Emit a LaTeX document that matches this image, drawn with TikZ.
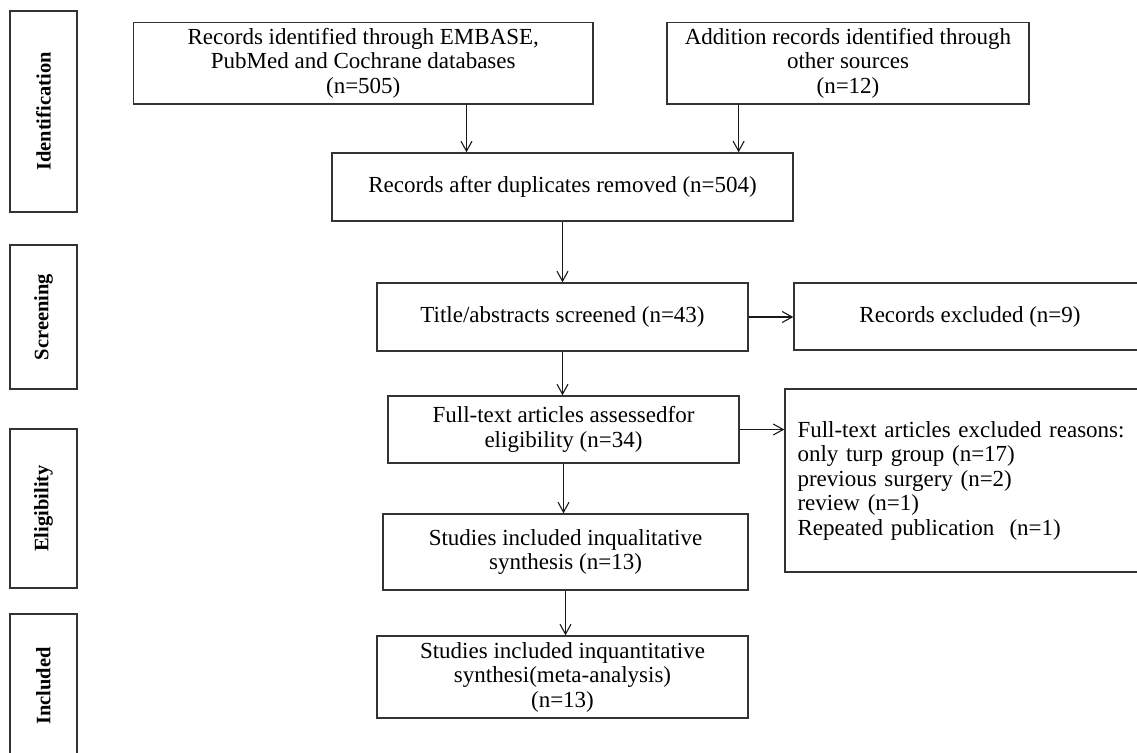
\documentclass[tikz,border=0pt]{standalone}
\usepackage{fontspec}
\setmainfont{Liberation Serif}
\usepackage{tikz}
\usetikzlibrary{arrows.meta, calc}

\begin{document}
\begin{tikzpicture}[
    x=1pt, y=-1pt,
    >={Straight Barb[length=10pt, width=11pt]},
    record/.style={rectangle, draw=black!80, line width=1.4pt, align=center,
                   inner sep=2pt, font=\fontsize{23}{24.5}\selectfont},
    stage/.style={rectangle, draw=black!80, line width=1.4pt, rotate=90,
                  minimum height=67pt, inner sep=2pt,
                  font=\fontsize{20.5}{24}\selectfont\bfseries},
    flow/.style={->, line width=1.1pt, black!90}
]
\useasboundingbox (0,0) rectangle (1137,752);
\foreach \y/\h/\t/\n in {111.5/201/Identification/sid, 317/144/Screening/sscr,
                         508.5/159/Eligibility/selg, 686/144/Included/sinc} {
    \node[stage, minimum width=\h pt] (\n) at (43.5,\y) {\t};
}
\node[record, minimum width=459.5pt, minimum height=81.3pt] (ident) at (363.25,63.35)
    {Records identified through EMBASE,\\PubMed and Cochrane databases\\(n=505)};
\node[record, minimum width=362pt, minimum height=81.3pt] (other) at (848,63.35)
    {Addition records identified through\\other sources\\(n=12)};
\node[record, minimum width=461pt, minimum height=68pt] (dedup) at (562.5,187)
    {Records after duplicates removed (n=504)};
\node[record, minimum width=371pt, minimum height=68pt] (screen) at (562.5,317)
    {Title/abstracts screened (n=43)};
\node[record, minimum width=352pt, minimum height=67pt] (excl) at (970,316.5)
    {Records excluded (n=9)};
\node[record, minimum width=351pt, minimum height=67pt] (full) at (563.5,429.5)
    {Full-text articles assessedfor\\eligibility (n=34)};
\node[record, align=left, text width=340pt, minimum width=365pt, minimum height=183pt]
    (reason) at (967.5,480.5)
    {Full-text articles excluded reasons:\\only turp group (n=17)\\previous surgery (n=2)\\
     review (n=1)\\Repeated publication\ \ (n=1)};
\node[record, minimum width=365pt, minimum height=76pt] (qual) at (565.5,552)
    {Studies included inqualitative\\synthesis (n=13)};
\node[record, minimum width=371pt, minimum height=82pt] (quant) at (562.5,677)
    {Studies included inquantitative\\synthesi(meta-analysis)\\(n=13)};
% arrows
\coordinate (in1) at ($(ident.south west)!.724!(ident.south east)$);
\coordinate (in2) at ($(other.south west)!.199!(other.south east)$);
\draw[flow] (in1) -- (in1 |- dedup.north);
\draw[flow] (in2) -- (in2 |- dedup.north);
\foreach \a/\b in {dedup/screen, screen/full, full/qual, qual/quant} {
    \draw[flow] (\a) -- (\a |- \b.north);
}
\draw[flow] (screen) -- (screen -| excl.west);
\draw[flow] (full) -- (full -| reason.west);
\end{tikzpicture}
\end{document}
